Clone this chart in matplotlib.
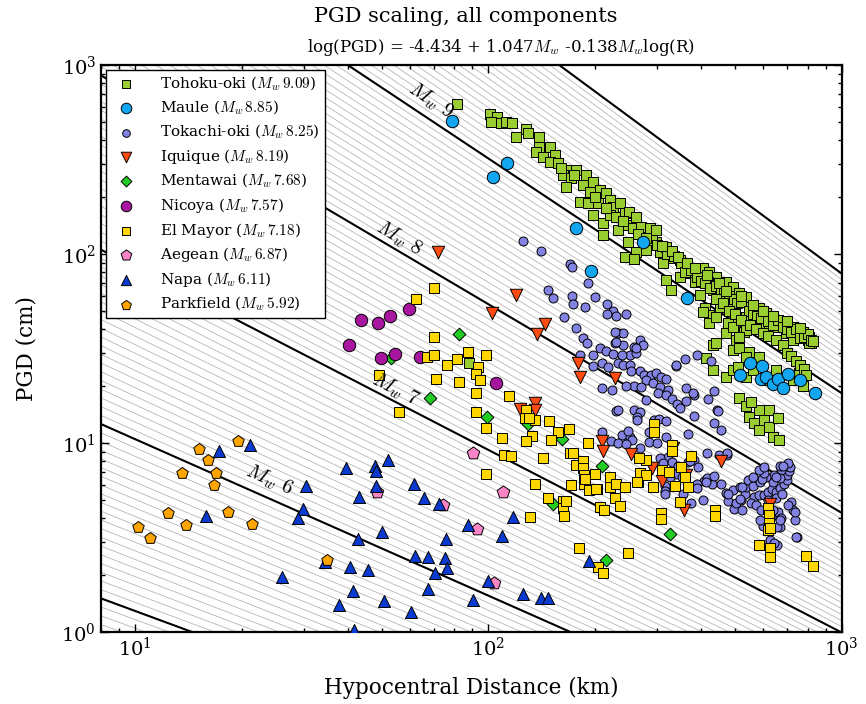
import numpy as np
import matplotlib
matplotlib.use("Agg")
import matplotlib.pyplot as plt

# ── Settings ──────────────────────────────────────────────
plt.rcParams["font.family"] = "serif"
plt.rcParams["font.serif"] = ["DejaVu Serif"]
plt.rcParams["mathtext.fontset"] = "cm"

# scaling law: log(PGD) = A + B*Mw + C*Mw*log(R)
A, B, C = -4.434, 1.047, -0.138

# ── Data (hypocentral distance km, PGD cm) ────────────────
tohoku = [(81.6, 622), (100.7, 548), (105.6, 533), (101.4, 501), (108.7, 495), (112.3, 501),
          (116.8, 491), (128, 457), (129.3, 438), (119.9, 414), (138.9, 414), (138.9, 367),
          (148.9, 370), (136.6, 348), (142.6, 327), (153.8, 334), (148.9, 308), (157.2, 302),
          (166, 278), (177.2, 278), (162.4, 262), (171.5, 251), (189.1, 262), (185, 232),
          (166, 227), (197.4, 241), (193.2, 214), (181.1, 189), (191.1, 185.5), (206.3, 218),
          (215.4, 209.5), (204, 185.5), (220.1, 193), (225, 178), (235, 185.5), (197.4, 160.8),
          (210.7, 146.4), (220.1, 160.8), (230, 157.6), (242.7, 164.2), (250.7, 167.4),
          (261.9, 157.6), (245.4, 142.4), (232.4, 134), (256.2, 136.8), (270.6, 139.5),
          (285.7, 136.8), (298.4, 134), (210.7, 126), (248, 116.2), (261.9, 102.9), (242.7, 96.8),
          (259, 94.1), (279.6, 105), (298.4, 116.2), (305, 102.9), (318.6, 109.3), (332.5, 94.9),
          (311.6, 89.3), (347.4, 93), (362.9, 85.7), (318.6, 72.9), (329.1, 64.5), (347.4, 75.9),
          (370.7, 79.1), (383, 71.4), (404.3, 84), (422.3, 80.6), (441.2, 75.9), (471, 71.4),
          (491.7, 67.1), (417.7, 71.4), (431.5, 64.5), (395.8, 60.7), (408.9, 51.6), (422.3, 47.6),
          (450.8, 52.6), (481.1, 54.9), (513.4, 61.9), (536.4, 59.4), (554.1, 52.6), (584.8, 51.6),
          (611, 48.6), (631.2, 45.7), (666.3, 43), (696.1, 43), (727, 41.2), (750.9, 39.6),
          (775.8, 38.8), (810.4, 36.5), (819.4, 33.7), (801.5, 35.1), (743, 35.8), (711, 38.1),
          (652, 41.2), (624, 43), (597.6, 45.7), (536.4, 46.6), (502.6, 46.6), (476, 43),
          (471, 38.1), (502.6, 35.1), (530.5, 38.8), (431.5, 33), (491.7, 31), (513.4, 31.7),
          (548, 30.4), (584.8, 28.6), (536.4, 28.6), (413.3, 28.1), (441.2, 33.7), (431.5, 24.3),
          (471, 22.4), (491.7, 24.3), (507.9, 25.3), (536.4, 22.4), (560, 24.3), (611, 21.5),
          (652, 24.3), (727, 21.5), (775.8, 19.9), (759, 23.4), (513.4, 17.2), (536.4, 15.6),
          (548, 13.8), (584.8, 14.9), (604, 13.2), (566, 12.7), (624, 12.2), (584.8, 11.7),
          (638, 10.8), (666.3, 10.4), (624, 14.9), (659, 13.5), (554.1, 16.5), (88, 26.4),
          (404.3, 49.5), (422.3, 43), (441.2, 46.6), (491.7, 41.2), (536.4, 39.6), (584.8, 43),
          (652, 43), (696.1, 38.1), (759, 38.1), (810, 33.7), (727, 35.1), (611, 37.3), (513.4, 36.5),
          (290, 118), (300, 112), (320, 100), (335, 98), (350, 90), (360, 80), (375, 82), (390, 76),
          (400, 72), (410, 70), (425, 66), (440, 68), (455, 62), (465, 64), (480, 60), (495, 58),
          (505, 55), (520, 56), (545, 50), (560, 48), (575, 47), (590, 46), (620, 44), (640, 42),
          (660, 45), (680, 41), (700, 40), (720, 38.5), (740, 40), (760, 36), (780, 36.5),
          (800, 37.5), (820, 35), (830, 34.5), (440, 58), (460, 55), (480, 50), (500, 48),
          (520, 45), (550, 42), (570, 40), (600, 38), (620, 37), (650, 35), (680, 33), (700, 30),
          (720, 29), (740, 27), (760, 26), (780, 24.5), (790, 23),
          (160, 285), (175, 262), (200, 200), (215, 175), (240, 150), (265, 128), (280, 122),
          (310, 110), (330, 104), (345, 96), (365, 90), (385, 84), (415, 77), (450, 70),
          (470, 64), (520, 60), (560, 54), (600, 50), (640, 47), (700, 44), (760, 40.5)]

maule = [(78.7, 506), (113, 303), (103, 255), (177, 137), (195, 81), (273, 116), (364, 58.5),
         (549, 26.4), (594, 25.5), (514, 22.9), (591, 21.7), (612, 22.3), (637, 20.5),
         (661, 21.9), (682, 19.5), (705, 23.1), (764, 21.5), (838, 18.4)]

tokachi = [(125, 117), (141, 104), (170, 88.5), (172, 85), (191, 70.5), (147, 64.5), (152, 58.7),
           (172, 60), (173, 54.4), (188, 52.2), (164, 46.6), (200, 59), (216, 54.4), (225, 50),
           (230, 47), (245, 48.3), (177, 40.5), (185, 35.8), (190, 33.7), (181, 29.2), (197, 29.2),
           (233, 38.4), (241, 38), (228, 33.7), (240, 33), (268, 35), (273, 33), (259, 32.3),
           (251, 29.2), (262, 29.8), (361, 27.7), (389, 29.2), (216, 48.3), (228, 38.8),
           (229, 34.4), (207, 31.7), (215, 30.7), (225, 29.5), (238, 29.2), (261, 31.7),
           (197, 25.6), (209, 26.6), (218, 25.1), (233, 26.6), (240, 25.9), (251, 25.9),
           (254, 24.1), (268, 23.9), (275, 22.9), (289, 22.9), (298, 23.4), (308, 22.3),
           (319, 21.7), (280, 21.5), (292, 20.7), (259, 20), (245, 20), (271, 19.8), (305, 19.7),
           (322, 19.1), (210, 19.5), (224, 19.1), (302, 18.3), (318, 17.9), (330, 17), (342, 16.1),
           (280, 16.9), (348, 15.3), (363, 19.5), (382, 17.9), (363, 16.7), (418, 17.1),
           (340, 25.5), (427, 27), (444, 15), (435, 12.8), (454, 11.7), (367, 11.2), (230, 14.8),
           (258, 15), (269, 14.6), (263, 13.8), (263, 13.2), (294, 13.2), (303, 13.4), (318, 13.1),
           (292, 11.4), (238, 11), (251, 10.8), (255, 10.4), (268, 9.4), (222, 10.2), (232, 9.96),
           (285, 10.1), (300, 9.96), (318, 10.7), (323, 8.4), (305, 8.3), (311, 7.8), (330, 7.9),
           (344, 7.6), (367, 7.9), (382, 8.1), (340, 6.85), (353, 6.6), (327, 6.6), (315, 5.95),
           (315, 5.6), (407, 6.3), (430, 6.06), (456, 6.06), (389, 6.06), (469, 5.47),
           (475, 4.95), (405, 4.97), (375, 4.83), (495, 4.46), (472, 8.66), (517, 5), (531, 5.4),
           (537, 5.88), (543, 6.36), (561, 5.9), (565, 5.2), (555, 4.8), (573, 4.7), (583, 5.3),
           (586, 6.2), (591, 4.42), (601, 5.3), (618, 5.5), (635, 5.7), (618, 5), (650, 5.5),
           (650, 5.1), (667, 5.75), (679, 5.4), (686, 6.06), (701, 6.36), (698, 6.8), (710, 7.1),
           (698, 7.6), (713, 7.5), (675, 7.2), (667, 6.5), (639, 6.2), (645, 6.8), (609, 6.6),
           (719, 4.9), (726, 4.42), (736, 3.9), (706, 4.7), (661, 4.33), (675, 4.0), (639, 4.42),
           (632, 4.07), (747, 3.19), (667, 3.58), (657, 2.88), (625, 3.04), (597, 3.65),
           (586, 3.9), (503, 4.83), (521, 4.42), (594, 6.45), (601, 6.9), (667, 7.6), (706, 7.8),
           (389, 5.75), (416, 6.5), (492, 5.63), (514, 5.88), (382, 13.9), (210, 11.5),
           (248, 11.6), (285, 11.5), (245, 9.9), (450, 8.66), (416, 8.9), (232, 15), (313, 7.2),
           (315, 5.4), (371, 8), (391, 7.5), (412, 6.2), (475, 5.4), (356, 5.4), (434, 6.65),
           (340, 25.9), (380, 18.3), (435, 18.8), (446, 14.8), (473, 8.8), (514, 5.04),
           (521, 5.88), (682, 7.6), (625, 3.07), (657, 3.6), (667, 3.9), (736, 4.33), (741, 3.19),
           (645, 2.94), (560, 6.6), (585, 7.2), (604, 7.5), (652, 6.6)]

iquique = [(72, 102.5), (120, 61), (102, 48.7), (145, 42.5), (137, 37.6), (179.5, 26.6),
           (181, 22.3), (228, 22), (209, 10.2), (211, 9.1), (253, 8.7), (291, 7.4), (309, 6.3),
           (333, 9.4), (363, 6.8), (357, 4.4), (454, 8.0), (625, 4.75), (123, 15.1), (135, 16.2),
           (135, 15.0)]

mentawai = [(82.6, 37.6), (53, 28.1), (68.2, 17.4), (99, 13.8), (162, 10.5), (210, 7.6),
            (152, 4.75), (327, 3.29), (215, 2.4), (129, 12.6)]

nicoya = [(43.6, 44.8), (48.6, 43), (52.6, 47), (59.6, 51.4), (40.2, 33), (49.5, 28.3),
          (54.5, 29.5), (63.8, 28.4), (105, 20.7)]

elmayor = [(70, 66.3), (62.5, 57.6), (70, 36.5), (67.2, 28.6), (70, 29.2), (87.3, 30.4),
           (81.7, 27.9), (76.2, 25.9), (93.1, 25.1), (92.4, 23.1), (94.5, 21.5), (70.8, 21.9),
           (82.6, 21), (48.9, 22.8), (55.9, 14.5), (92.4, 18.3), (92.4, 14.5), (98.6, 29.2),
           (98.6, 12), (109, 10.6), (114, 17.8), (111, 8.6), (116, 8.5), (98.2, 6.86), (135, 6.06),
           (128, 15), (135, 13.2), (127, 13.5), (130, 13.6), (148, 13), (157, 11.5), (169, 11.8),
           (133, 10.9), (128, 10.2), (150, 10.4), (143, 8.3), (147, 5.1), (163, 4.95), (163, 4.54),
           (164, 4.12), (131, 4.07), (170, 8.9), (174, 8.9), (177, 7.65), (185, 8.06), (185, 7.4),
           (186, 6.8), (186, 6.1), (193, 5.63), (200, 6.85), (203, 5.7), (191, 9.96), (171, 6.0),
           (207, 4.6), (213, 4.42), (221, 6.6), (221, 5.88), (230, 6.06), (243, 5.83), (228, 5.1),
           (236, 4.64), (180, 2.77), (204, 2.2), (211, 2.06), (249, 2.63), (265, 6.2), (268, 6.96),
           (280, 6.8), (292, 5.83), (280, 8.1), (266, 8.3), (294, 12.6), (294, 11.5), (310, 7.2),
           (324, 7.05), (330, 9.6), (337, 5.9), (350, 7.5), (359, 6.6), (367, 5.83), (374, 8.5),
           (348, 4.9), (308, 4.28), (308, 3.95), (437, 4.42), (437, 4.1), (583, 2.89), (618, 4.51),
           (621, 4.16), (621, 3.79), (620, 3.46), (628, 2.77), (628, 2.5), (791, 2.52), (830, 2.24),
           (331, 9.78), (330, 9.1), (187, 6.43), (202, 5.74), (263, 6.2), (166, 4.95), (625, 3.53)]

aegean = [(90.2, 8.8), (109.6, 5.5), (74.4, 4.7), (92.9, 3.5), (104, 1.81), (48.3, 5.5)]

napa = [(17.3, 9.1), (21.1, 9.7), (15.9, 4.1), (26.1, 1.96), (30.5, 5.9), (29.8, 4.5), (28.8, 4.0),
        (34.4, 2.36), (39.4, 7.4), (47.6, 7.55), (48, 7.15), (51.8, 8.1), (48, 5.9), (43, 5.2),
        (50.1, 3.37), (42.7, 3.1), (40.6, 2.2), (45.6, 2.13), (41.4, 1.65), (37.8, 1.39),
        (50.6, 1.45), (41.7, 1.02), (61.6, 6.1), (65.8, 5.1), (72.5, 4.75), (117, 4.05),
        (87.5, 3.68), (109, 3.23), (75.7, 3.1), (62.1, 2.53), (67.5, 2.5), (75.5, 2.47),
        (76.4, 2.17), (70.5, 2.05), (67.5, 1.68), (60.5, 1.27), (90.2, 1.47), (99.8, 1.87),
        (125, 1.59), (141, 1.51), (147, 1.52), (192, 2.38)]

parkfield = [(19.6, 10.2), (15.2, 9.3), (16.1, 8.1), (13.6, 6.9), (16.9, 6.9), (16.7, 6.0),
             (12.4, 4.25), (18.3, 4.3), (13.9, 3.7), (21.4, 3.73), (10.2, 3.6), (11.0, 3.16),
             (34.9, 2.4)]

# (data, name, Mw, marker, facecolor, size)
events = [
    (tohoku,    "Tohoku-oki", "9.09", "s", "#9ACD32", 45),
    (maule,     "Maule",      "8.85", "o", "#12A6F0", 80),
    (tokachi,   "Tokachi-oki", "8.25", "o", "#8282E2", 42),
    (iquique,   "Iquique",    "8.19", "v", "#FF4A10", 80),
    (mentawai,  "Mentawai",   "7.68", "D", "#22CC22", 42),
    (nicoya,    "Nicoya",     "7.57", "o", "#A8159E", 80),
    (elmayor,   "El Mayor",   "7.18", "s", "#FFD700", 50),
    (aegean,    "Aegean",     "6.87", "p", "#FA84C6", 90),
    (napa,      "Napa",       "6.11", "^", "#0A3AD0", 75),
    (parkfield, "Parkfield",  "5.92", "p", "#FFA500", 75),
]

# Mw label positions (R, PGD) and rotation
mw_labels = [("9", 68.6, 645, -33.6), ("8", 55.7, 121.5, -30.6),
             ("7", 54.6, 19.1, -27.3), ("6", 23.9, 6.37, -23.9)]

# ── Figure ────────────────────────────────────────────────
fig = plt.figure(figsize=(8.66, 7.04), dpi=100)
ax = fig.add_axes([0.1166, 0.1023, 0.8554, 0.8054])

R = np.logspace(np.log10(8), 3, 200)
for M in np.arange(4.0, 9.999, 0.05):
    pgd = 10 ** (A + B * M + C * M * np.log10(R))
    ax.plot(R, pgd, color="#b0b0b0", lw=0.55, zorder=1)
for M in [5, 6, 7, 8, 9, 10]:
    pgd = 10 ** (A + B * M + C * M * np.log10(R))
    ax.plot(R, pgd, color="k", lw=1.5, zorder=2)

for data, name, mw, mk, fc, s in events:
    arr = np.array(data)
    ax.scatter(arr[:, 0], arr[:, 1], marker=mk, s=s, c=fc, edgecolors="k",
               linewidths=0.7, zorder=3, label=name + " (" + r"$M_w\,$" + "$" + mw + "$)")

for m, r, p, rot in mw_labels:
    ax.text(r, p, r"$M_w$ $" + m + "$", fontsize=15, rotation=rot,
            ha="center", va="center", rotation_mode="anchor")

ax.set_xscale("log")
ax.set_yscale("log")
ax.set_xlim(8, 1000)
ax.set_ylim(1, 1000)

ax.tick_params(which="both", direction="in", top=True, right=True, labelsize=14)
ax.tick_params(which="major", length=6, width=1)
ax.tick_params(which="minor", length=3, width=1)
for sp in ax.spines.values():
    sp.set_linewidth(1.6)

ax.set_xlabel("Hypocentral Distance (km)", fontsize=15.5, labelpad=12)
ax.set_ylabel("PGD (cm)", fontsize=15.5, labelpad=17)
fig.text(0.538, 0.977, "PGD scaling, all components", fontsize=15, ha="center", va="center")
fig.text(0.3545, 0.933, "log(PGD) = -4.434 + 1.047$M_w$ -0.138$M_w$log(R)", fontsize=12,
         ha="left", va="center")

leg = ax.legend(loc="upper left", fontsize=11, scatterpoints=1, markerscale=0.85,
                fancybox=False, edgecolor="k", framealpha=1, borderaxespad=0.3,
                labelspacing=0.38, handletextpad=1.2, borderpad=0.35)
leg.get_frame().set_linewidth(1.0)

fig.savefig("out.png", dpi=100)
